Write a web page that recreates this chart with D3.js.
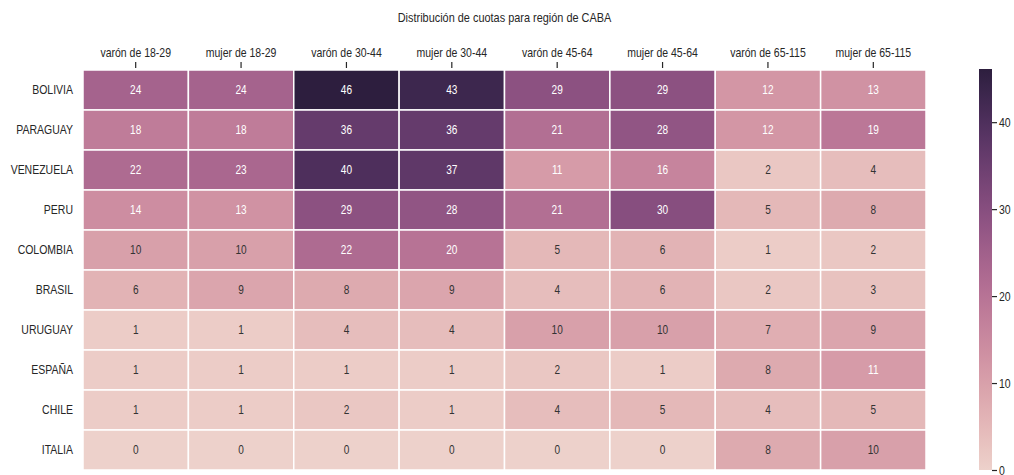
<!DOCTYPE html>
<html>
<head>
<meta charset="utf-8">
<script src="https://cdn.jsdelivr.net/npm/d3@7"></script>
<style>
  body { margin: 0; background: #fff; }
  text { font-family: "Liberation Sans", Arial, sans-serif; }
</style>
</head>
<body>
<div id="chart"></div>
<script>
var columnas = ["varón de 18-29", "mujer de 18-29", "varón de 30-44", "mujer de 30-44",
  "varón de 45-64", "mujer de 45-64", "varón de 65-115", "mujer de 65-115"];
var paises = ["BOLIVIA", "PARAGUAY", "VENEZUELA", "PERU", "COLOMBIA", "BRASIL",
  "URUGUAY", "ESPAÑA", "CHILE", "ITALIA"];
var valores = [
  [24, 24, 46, 43, 29, 29, 12, 13],
  [18, 18, 36, 36, 21, 28, 12, 19],
  [22, 23, 40, 37, 11, 16, 2, 4],
  [14, 13, 29, 28, 21, 30, 5, 8],
  [10, 10, 22, 20, 5, 6, 1, 2],
  [6, 9, 8, 9, 4, 6, 2, 3],
  [1, 1, 4, 4, 10, 10, 7, 9],
  [1, 1, 1, 1, 2, 1, 8, 11],
  [1, 1, 2, 1, 4, 5, 4, 5],
  [0, 0, 0, 0, 0, 0, 8, 10]
];
var cbTicks = [0, 10, 20, 30, 40];
var titulo = "Distribución de cuotas para región de CABA";

var W = 1014, H = 475;
var pad = {left: 83, right: 926, top: 70, bottom: 470};
var narrow = 0.84; // the source font is condensed

// seaborn cubehelix_palette (start=0, rot=.4, hue=.8, light=.85, dark=.15)
var cubehelix = function(t)
{
  var x = 0.85 + (0.15 - 0.85) * t;
  var f = function(p0, p1)
  {
    var a = 0.8 * x * (1 - x) / 2;
    var phi = 2 * Math.PI * (0.4 * x);
    return Math.max(0, Math.min(1, x + a * (p0 * Math.cos(phi) + p1 * Math.sin(phi))));
  };
  return [f(-0.14861, 1.78277), f(-0.29227, -0.90649), f(1.97294, 0.0)];
};
var toCss = function(c) { return d3.rgb(c[0] * 255, c[1] * 255, c[2] * 255).toString(); };
var luminance = function(c)
{
  var l = c.map(function(v) { return v <= 0.03928 ? v / 12.92 : Math.pow((v + 0.055) / 1.055, 2.4); });
  return 0.2126 * l[0] + 0.7152 * l[1] + 0.0722 * l[2];
};

var vmax = d3.max(valores, function(r) { return d3.max(r); });
var norm = d3.scaleLinear().domain([0, vmax]).range([0, 1]).clamp(true);

var svg = d3.select("#chart").append("svg")
  .attr("width", W).attr("height", H);

var xs = d3.scaleBand().domain(columnas).range([pad.left, pad.right]);
var ys = d3.scaleBand().domain(paises).range([pad.top, pad.bottom]);

var cells = [];
for (var i = 0; i < paises.length; i++)
  for (var j = 0; j < columnas.length; j++)
    cells.push({ row: paises[i], col: columnas[j], v: valores[i][j] });

var g = svg.append("g");
g.selectAll("rect").data(cells).enter().append("rect")
  .attr("x", function(d) { return xs(d.col); })
  .attr("y", function(d) { return ys(d.row); })
  .attr("width", xs.bandwidth())
  .attr("height", ys.bandwidth())
  .attr("fill", function(d) { return toCss(cubehelix(norm(d.v))); })
  .attr("stroke", "#fff")
  .attr("stroke-width", 1.5);

g.selectAll("text.annot").data(cells).enter().append("text")
  .attr("class", "annot")
  .attr("transform", function(d) {
    return "translate(" + (xs(d.col) + xs.bandwidth() / 2) + "," + (ys(d.row) + ys.bandwidth() / 2) + ") scale(" + narrow + ",1)";
  })
  .attr("dy", "0.35em")
  .attr("text-anchor", "middle")
  .attr("font-size", 12)
  .attr("fill", function(d) { return luminance(cubehelix(norm(d.v))) > 0.408 ? "#333" : "#fff"; })
  .text(function(d) { return d.v; });

// column labels on top
var xAxis = svg.append("g").attr("transform", "translate(0," + (pad.top - 2) + ")")
  .call(d3.axisTop(xs).tickSize(6).tickPadding(5));
xAxis.select(".domain").remove();
xAxis.selectAll("line").attr("stroke", "#262626").attr("stroke-width", 1.2);
xAxis.selectAll("text").attr("font-size", 12.5).attr("fill", "#262626")
  .attr("transform", "scale(" + narrow + ",1)");

// row labels
var yAxis = svg.append("g").attr("transform", "translate(" + pad.left + ",0)")
  .call(d3.axisLeft(ys).tickSize(0).tickPadding(0));
yAxis.select(".domain").remove();
yAxis.selectAll("text").attr("font-size", 12.5).attr("fill", "#262626")
  .attr("x", -10 / narrow)
  .attr("transform", "scale(" + narrow + ",1)");

svg.append("text")
  .attr("transform", "translate(" + ((pad.left + pad.right) / 2) + ",22) scale(" + narrow + ",1)")
  .attr("text-anchor", "middle")
  .attr("font-size", 13)
  .attr("fill", "#262626")
  .text(titulo);

// colorbar
var cbX = 979, cbW = 13;
var cbScale = d3.scaleLinear().domain([0, vmax]).range([pad.bottom, pad.top]);
var defs = svg.append("defs");
var grad = defs.append("linearGradient").attr("id", "cbgrad")
  .attr("x1", "0").attr("y1", "1").attr("x2", "0").attr("y2", "0");
d3.range(0, 1.0001, 0.05).forEach(function(t)
{
  grad.append("stop").attr("offset", t).attr("stop-color", toCss(cubehelix(t)));
});
svg.append("rect")
  .attr("x", cbX).attr("y", pad.top - 1)
  .attr("width", cbW).attr("height", pad.bottom - pad.top + 1)
  .attr("fill", "url(#cbgrad)");
var cbAxis = svg.append("g").attr("transform", "translate(" + (cbX + cbW) + ",0)")
  .call(d3.axisRight(cbScale).tickValues(cbTicks).tickSize(5).tickPadding(0));
cbAxis.select(".domain").remove();
cbAxis.selectAll("line").attr("stroke", "#262626").attr("stroke-width", 1.2);
cbAxis.selectAll("text").attr("font-size", 12.5).attr("fill", "#262626")
  .attr("x", 7 / narrow)
  .attr("transform", "scale(" + narrow + ",1)");
</script>
</body>
</html>
